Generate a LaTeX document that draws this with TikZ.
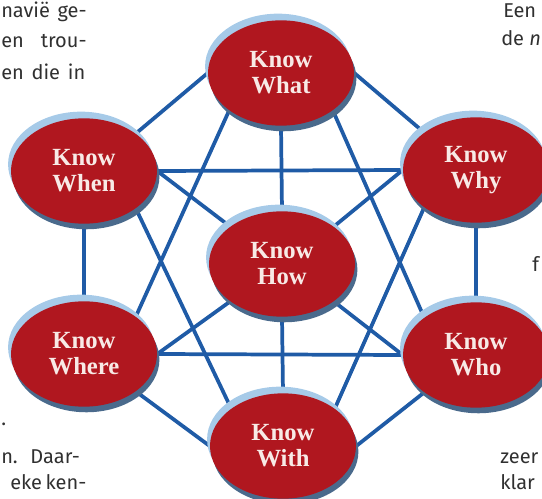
\documentclass[tikz,border=0pt]{standalone}
\usepackage{fontspec}
\setmainfont{Liberation Serif}
\newfontfamily\pagefont{Fira Sans}
\usetikzlibrary{shapes,backgrounds,shadows}
\definecolor{knowred}{HTML}{B0171F}
\definecolor{knowtext}{HTML}{F8EAE6}
\definecolor{rimlight}{HTML}{A6CAE8}
\definecolor{rimdark}{HTML}{4A6A8C}
\definecolor{linkblue}{HTML}{1F5BA6}
\definecolor{pagegrey}{HTML}{303030}

\begin{document}
\begin{tikzpicture}[
    x=0.75pt, y=-0.75pt,
    know/.style={
        ellipse,
        fill=knowred,
        inner sep=0pt,
        minimum width=109.5pt,
        minimum height=79pt,
        text=knowtext,
        font=\fontsize{18.5}{19.5}\selectfont\bfseries,
        align=center,
        general shadow={fill=rimlight, shadow xshift=-2.2pt, shadow yshift=5pt},
        general shadow={fill=rimdark, shadow xshift=1.8pt, shadow yshift=-4.2pt}
    },
    link/.style={draw=linkblue, line width=2.8pt},
    pagetext/.style={font=\pagefont\fontsize{15}{15}\selectfont, text=pagegrey, inner sep=0pt}
]
\useasboundingbox (0,0) rectangle (542,499);
\clip (0,0) rectangle (542,499);

\node[know] (what)  at (281,73)  {Know\\What};
\node[know] (when)  at (84,171)  {Know\\When};
\node[know] (why)   at (476,170) {Know\\Why};
\node[know] (how)   at (282,264) {Know\\How};
\node[know] (where) at (84,354)  {Know\\Where};
\node[know] (who)   at (476,355) {Know\\Who};
\node[know] (with)  at (283,446) {Know\\With};

\begin{scope}[on background layer]
\foreach \a/\b in {what.west/when.north east, what.east/why.north west,
    when.south/where.north, why.south/who.north,
    where.south east/with.west, who.south west/with.east,
    when.east/why.west, where.east/who.west,
    what.south west/where.north east, what.south east/who.north west,
    when.south east/with.north west, why.south west/with.north east,
    what.south/how.north, how.south/with.north,
    when.east/how.north west, why.west/how.north east,
    where.east/how.south west, who.west/how.south east}
  \draw[link] (\a) -- (\b);
\end{scope}

% bits of the page text round the figure
\node[pagetext, anchor=base west] (l1) at (1,18) {\makebox[64pt][s]{navië ge-}};
\node[pagetext, anchor=base west] (l2) at (1,48) {\makebox[64pt][s]{en trou-}};
\node[pagetext, anchor=base west] (l3) at (1,80) {\makebox[63pt][s]{en die in}};
\node[pagetext, anchor=base west] (l4) at (1,425) {.};
\node[pagetext, anchor=base west] (l5) at (1,463) {\makebox[59pt][s]{n. Daar-}};
\node[pagetext, anchor=base west] (l6) at (10,489) {\makebox[52pt][s]{eke ken-}};
\node[pagetext, anchor=base west] (r1) at (503,18) {Een};
\node[pagetext, anchor=base west] (r2) at (501,46) {de \textit{n}};
\node[pagetext, anchor=base west] (r3) at (532,271) {f};
\node[pagetext, anchor=base west] (r4) at (500,463) {zeer};
\node[pagetext, anchor=base west] (r5) at (500,489) {klar};
\end{tikzpicture}
\end{document}
